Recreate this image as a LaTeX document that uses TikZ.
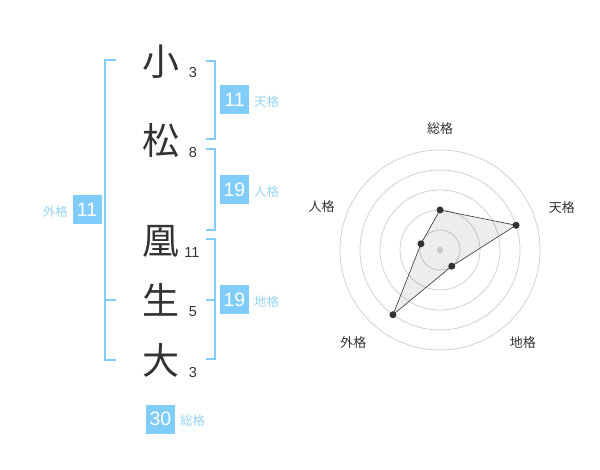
\documentclass[tikz,border=0pt]{standalone}
\usepackage{fontspec}
\setmainfont{Liberation Sans}
\newfontfamily\cjk{Noto Sans CJK JP}
\usetikzlibrary{positioning,calc}
\definecolor{kakublue}{RGB}{128,204,250}
\definecolor{kakulight}{RGB}{150,212,246}
\definecolor{inkgray}{RGB}{51,51,51}
\tikzset{
	kanji/.style={font=\cjk\fontsize{37}{37}\selectfont, text=inkgray, inner sep=0},
	strokes/.style={font=\fontsize{14.5}{14.5}\selectfont, text=inkgray, inner sep=0},
	bracket/.style={color=kakublue, line width=2pt},
	kakubox/.style={fill=kakublue, text=white, minimum width=29pt, minimum height=29pt, inner sep=0, font=\fontsize{19.5}{19.5}\selectfont},
	kakulabel/.style={text=kakulight, font=\cjk\fontsize{12.5}{12.5}\selectfont, inner sep=0},
	ring/.style={draw=black!20, line width=0.7pt},
	radarline/.style={draw=inkgray, line width=0.6pt, fill=black, fill opacity=0.07},
	dot/.style={circle, fill=inkgray, inner sep=0, minimum size=7pt},
	axislabel/.style={font=\cjk\fontsize{13}{13}\selectfont, text=inkgray, inner sep=0}
}
\begin{document}
\begin{tikzpicture}[x=1pt,y=-1pt]
		\useasboundingbox (0,0) rectangle (600,470);
		
		% name
		\node [kanji] (k1) at (161, 62) {小};
		\node [kanji] (k2) at (161,140) {松};
		\node [kanji] (k3) at (161,241) {凰};
		\node [kanji] (k4) at (161,300) {生};
		\node [kanji] (k5) at (161,360) {大};
		\node [strokes] (s1) at (193, 73) {3};
		\node [strokes] (s2) at (193,153) {8};
		\node [strokes] (s3) at (192,253) {11};
		\node [strokes] (s4) at (193,312) {5};
		\node [strokes] (s5) at (193,373) {3};
		
		% brackets
		\coordinate (ga) at (116, 60); \coordinate (gb) at (105, 60);
		\coordinate (gc) at (105,360); \coordinate (gd) at (116,360);
		\coordinate (ge) at (105,300); \coordinate (gf) at (116,300);
		\draw [bracket] (ga) -- (gb) -- (gc) -- (gd);
		\draw [bracket] (ge) -- (gf);
		
		\coordinate (ta) at (206, 61); \coordinate (tb) at (215, 61);
		\coordinate (tc) at (215,139); \coordinate (td) at (206,139);
		\draw [bracket] (ta) -- (tb) -- (tc) -- (td);
		
		\coordinate (ja) at (206,149); \coordinate (jb) at (215,149);
		\coordinate (jc) at (215,230); \coordinate (jd) at (206,230);
		\draw [bracket] (ja) -- (jb) -- (jc) -- (jd);
		
		\coordinate (ca) at (206,239); \coordinate (cb) at (215,239);
		\coordinate (cc) at (215,359); \coordinate (cd) at (206,359);
		\coordinate (ce) at (215,300); \coordinate (cf) at (206,300);
		\draw [bracket] (ca) -- (cb) -- (cc) -- (cd);
		\draw [bracket] (ce) -- (cf);
		
		% scores
		\node [kakubox] (ten) at (234.5,100) {11};
		\node [kakulabel, anchor=west] (tenl) at (254,102) {天格};
		\node [kakubox] (jin) at (234.5,190) {19};
		\node [kakulabel, anchor=west] (jinl) at (254,192) {人格};
		\node [kakubox] (chi) at (234.5,300) {19};
		\node [kakulabel, anchor=west] (chil) at (254,302) {地格};
		\node [kakubox] (gai) at (87,210) {11};
		\node [kakulabel, anchor=east] (gail) at (68,212) {外格};
		\node [kakubox] (sou) at (160.5,419) {30};
		\node [kakulabel, anchor=west] (soul) at (180,421) {総格};
		
		% radar
		\begin{scope}[shift={(440,250)}, y=1pt]
			\foreach \r in {20,40,60,80,100}
			\draw [ring] (0,0) circle (\r);
			\coordinate (pso) at (90:40);
			\coordinate (pte) at (18:80);
			\coordinate (pch) at (-54:20);
			\coordinate (pga) at (-126:80);
			\coordinate (pji) at (162:20);
			\draw [radarline] (pso) -- (pte) -- (pch) -- (pga) -- (pji) -- cycle;
			\fill [black!22] (0,0) circle (3.2);
			\node [dot] (dso) at (pso) {};
			\node [dot] (dte) at (pte) {};
			\node [dot] (dch) at (pch) {};
			\node [dot] (dga) at (pga) {};
			\node [dot] (dji) at (pji) {};
			\node [axislabel] (aso) at (90:121) {総格};
			\node [axislabel] (ate) at (19:129) {天格};
			\node [axislabel] (ach) at (-48:124) {地格};
			\node [axislabel] (aga) at (-133:127) {外格};
			\node [axislabel] (aji) at (160:126) {人格};
		\end{scope}
		
	\end{tikzpicture}
\end{document}
